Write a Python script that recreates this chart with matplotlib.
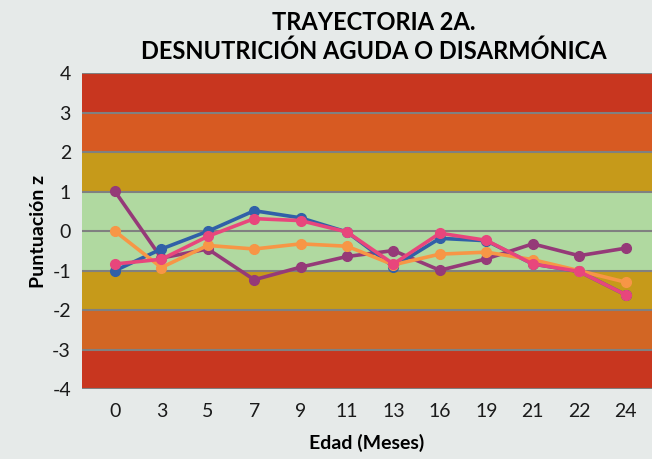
import matplotlib.pyplot as plt

edades = ["0", "3", "5", "7", "9", "11", "13", "16", "19", "21", "22", "24"]

serie_azul = [-1.0, -0.45, 0.0, 0.52, 0.34, -0.02, -0.9, -0.18, -0.24, -0.83, -1.02, -1.61]
serie_morada = [1.01, -0.68, -0.45, -1.23, -0.91, -0.64, -0.49, -0.99, -0.70, -0.32, -0.62, -0.43]
serie_naranja = [0.0, -0.92, -0.36, -0.45, -0.32, -0.38, -0.85, -0.58, -0.53, -0.72, -1.0, -1.29]
serie_rosa = [-0.83, -0.71, -0.13, 0.32, 0.27, -0.02, -0.83, -0.05, -0.23, -0.83, -1.02, -1.61]

# franjas de fondo (desde, hasta, color)
franjas = [(3, 4, "#C8361F"), (2, 3, "#D75A22"), (1, 2, "#C69A1A"),
           (-1, 1, "#B0D9A0"), (-2, -1, "#C69A1A"), (-3, -2, "#D26624"),
           (-4, -3, "#C8361F")]

plt.rcParams['font.family'] = ['Lato', 'DejaVu Sans']
plt.rcParams['axes.unicode_minus'] = False

fig = plt.figure(figsize=(6.52, 4.59), dpi=100, facecolor="#E6EAE9")
ax = fig.add_axes([0.1258, 0.1525, 0.8742, 0.6874])

for y0, y1, c in franjas:
    ax.axhspan(y0, y1, color=c, zorder=0, lw=0)
for y in range(-4, 5):
    ax.axhline(y, color="#808080", lw=1.5, zorder=1)

x = range(len(edades))
ax.plot(x, serie_morada, color="#953A78", lw=2.6, marker="o", ms=7, zorder=3)
ax.plot(x, serie_azul, color="#3060A8", lw=2.6, marker="o", ms=7, zorder=3)
ax.plot(x, serie_naranja, color="#F79646", lw=2.6, marker="o", ms=7, zorder=3)
ax.plot(x, serie_rosa, color="#E8467C", lw=2.6, marker="o", ms=7, zorder=3)

ax.set_xlim(-0.71, 11.57)
ax.set_ylim(-4, 4)
ax.set_xticks(list(x))
ax.set_xticklabels(edades)
ax.set_yticks(range(-4, 5))
ax.tick_params(length=0, labelsize=14, colors="#1a1a1a")
ax.tick_params(axis="x", pad=10)
ax.tick_params(axis="y", pad=8)
for s in ax.spines.values():
    s.set_visible(False)

ax.set_xlabel("Edad (Meses)", fontsize=14, fontweight="bold", labelpad=10)
ax.set_ylabel("Puntuación z", fontsize=14, fontweight="bold", labelpad=4)
fig.text(0.573, 0.975, "TRAYECTORIA 2A.\nDESNUTRICIÓN AGUDA O DISARMÓNICA",
         ha="center", va="top", fontsize=17, fontweight="bold", linespacing=1.25)

fig.savefig("out.png", dpi=100, facecolor=fig.get_facecolor())
